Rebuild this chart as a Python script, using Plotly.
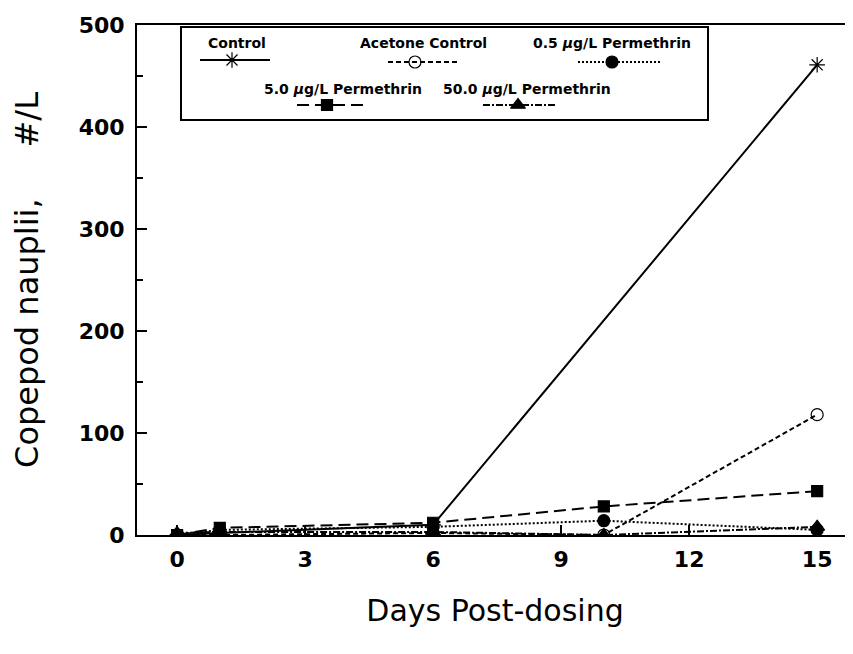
import plotly.graph_objects as go

days = [0, 1, 6, 10, 15]
control = [0, 2, 10, None, 461]
acetone = [0, 0, 2, 0, 118]
perm_05 = [0, 5, 8, 14, 5]
perm_5 = [0, 7, 12, 28, 43]
perm_50 = [2, 3, 3, 0, 8]

names = ["Control", "Acetone Control", "0.5 <i>µ</i>g/L Permethrin",
         "5.0 <i>µ</i>g/L Permethrin", "50.0 <i>µ</i>g/L Permethrin"]
series = [control, acetone, perm_05, perm_5, perm_50]
dashes = ["solid", "5px,3px", "2px,2px", "12px,6px", "7px,2px,2px,2px"]
symbols = ["asterisk-open", "circle-open", "circle", "square", "triangle-up"]
sizes = [13, 12, 12, 11, 13]

# legend layout in page-pixel space of the overlay axis (x: 137..853, y: 25..535)
leg_text_xy = [(237, 43), (423, 43), (612, 43), (343, 89), (527, 89)]
leg_line = [(200, 232, 270, 60), (388, 415, 457, 62), (578, 612, 662, 62),
            (297, 327, 367, 105), (483, 518, 557, 105)]

FONT = "DejaVu Sans, Verdana, sans-serif"

fig = go.Figure()
for n, s, d, sym, sz in zip(names, series, dashes, symbols, sizes):
    fig.add_trace(go.Scatter(
        x=days, y=s, name=n, mode="lines+markers", connectgaps=True,
        showlegend=False,
        line=dict(color="black", width=2, dash=d),
        marker=dict(symbol=sym, size=sz, color="black", opacity=1,
                    line=dict(color="black", width=1.2)),
    ))

# custom legend glyphs (text above a line sample, as in the original)
annotations = []
for n, d, sym, sz, (tx, ty), (x0, xm, x1, ly) in zip(
        names, dashes, symbols, sizes, leg_text_xy, leg_line):
    fig.add_trace(go.Scatter(
        x=[x0, x1], y=[ly, ly], xaxis="x2", yaxis="y2",
        mode="lines", showlegend=False, hoverinfo="skip",
        line=dict(color="black", width=2, dash=d),
    ))
    fig.add_trace(go.Scatter(
        x=[xm], y=[ly], xaxis="x2", yaxis="y2",
        mode="markers", showlegend=False, hoverinfo="skip",
        marker=dict(symbol=sym, size=sz, color="black", opacity=1,
                    line=dict(color="black", width=1.2)),
    ))
    annotations.append(dict(
        x=tx, y=ty, xref="x2", yref="y2", text="<b>" + n + "</b>",
        showarrow=False, font=dict(size=14, family=FONT, color="black"),
        xanchor="center", yanchor="middle",
    ))

# the page body adds an 8px offset, so the figure is 8px smaller than the window
fig.update_layout(
    width=845, height=646,
    margin=dict(l=129, r=0, t=17, b=119),
    paper_bgcolor="white", plot_bgcolor="white",
    font=dict(family=FONT, color="black"),
    showlegend=False,
    annotations=annotations,
    shapes=[dict(type="rect", xref="x2", yref="y2", x0=181, x1=708,
                 y0=27, y1=120, line=dict(color="black", width=2),
                 fillcolor="rgba(0,0,0,0)", layer="below")],
    xaxis=dict(
        range=[-0.94, 15.84], tickvals=[0, 3, 6, 9, 12, 15],
        ticks="inside", ticklen=10, tickwidth=2, tickcolor="black",
        showline=True, linecolor="black", linewidth=2, mirror=True,
        showgrid=False, zeroline=False, automargin=False,
        tickfont=dict(size=22, weight="bold"), ticklabelstandoff=4,
        title=dict(text="Days Post-dosing", font=dict(size=30), standoff=29),
    ),
    yaxis=dict(
        range=[0, 500], tickvals=[0, 100, 200, 300, 400, 500],
        ticks="inside", ticklen=10, tickwidth=2, tickcolor="black",
        minor=dict(tickvals=[50, 150, 250, 350, 450], ticks="inside",
                   ticklen=6, tickwidth=2, tickcolor="black"),
        showline=True, linecolor="black", linewidth=2,
        showgrid=False, zeroline=False, automargin=False,
        tickfont=dict(size=22, weight="bold"), ticklabelstandoff=6,
        title=dict(text="Copepod nauplii,&nbsp;&nbsp;&nbsp;&nbsp; #/L",
                   font=dict(size=32), standoff=30),
    ),
    xaxis2=dict(range=[137, 853], overlaying="x", visible=False,
                fixedrange=True),
    yaxis2=dict(range=[535, 25], overlaying="y", visible=False,
                fixedrange=True),
)

fig.write_html("out.html")
